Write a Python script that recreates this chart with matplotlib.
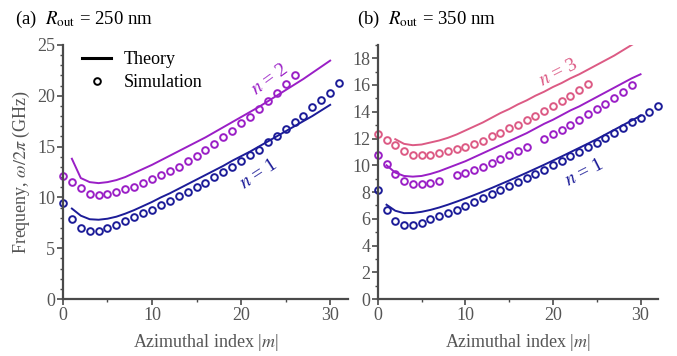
import numpy as np
import matplotlib
matplotlib.use("Agg")
import matplotlib.pyplot as plt
from matplotlib.ticker import MultipleLocator
from matplotlib.lines import Line2D

plt.rcParams['font.family'] = ['Liberation Serif', 'DejaVu Serif']
plt.rcParams['mathtext.fontset'] = 'stix'

nan = np.nan

# ---------------- Panel (a): R_out = 250 nm ----------------
a_m_sim1 = list(range(0, 32))
a_sim_n1 = [9.45, 7.9, 7.0, 6.65, 6.7, 7.0, 7.3, 7.7, 8.05, 8.45, 8.8, 9.25,
            9.65, 10.1, 10.5, 11.0, 11.45, 12.0, 12.45, 13.0, 13.6, 14.2, 14.7,
            15.4, 16.0, 16.7, 17.4, 18.05, 18.85, 19.6, 20.3, 21.2]
a_m_sim2 = list(range(0, 27))
a_sim_n2 = [12.1, 11.55, 10.9, 10.3, 10.2, 10.3, 10.5, 10.8, 11.05, 11.45, 11.8,
            12.2, 12.6, 13.0, 13.55, 14.1, 14.7, 15.25, 15.9, 16.55, 17.3, 17.95,
            18.7, 19.5, 20.3, 21.15, 22.05]
a_m_th = list(range(1, 31))
a_th_n1 = [8.9, 8.2, 7.85, 7.8, 7.9, 8.1, 8.4, 8.75, 9.15, 9.55, 10.0, 10.4,
           10.85, 11.3, 11.75, 12.2, 12.65, 13.1, 13.6, 14.05, 14.5, 15.0, 15.5,
           16.0, 16.5, 17.0, 17.5, 18.0, 18.55, 19.1]
a_th_n2 = [13.8, 11.9, 11.5, 11.4, 11.5, 11.7, 12.0, 12.4, 12.8, 13.2, 13.65,
           14.1, 14.55, 15.0, 15.45, 15.9, 16.4, 16.9, 17.4, 17.9, 18.4, 18.9,
           19.45, 20.0, 20.55, 21.1, 21.65, 22.25, 22.85, 23.45]

# ---------------- Panel (b): R_out = 350 nm ----------------
b_m_sim1 = list(range(0, 33))
b_sim_n1 = [8.18, 6.64, 5.85, 5.52, 5.52, 5.72, 5.95, 6.19, 6.44, 6.69, 6.96,
            7.26, 7.56, 7.84, 8.13, 8.46, 8.75, 9.05, 9.38, 9.68, 10.0, 10.32,
            10.67, 11.0, 11.37, 11.7, 12.07, 12.4, 12.8, 13.2, 13.55, 14.0, 14.4]
b_m_sim2 = list(range(0, 30))
b_sim_n2 = [10.75, 10.07, 9.33, 8.8, 8.63, 8.63, 8.7, 8.83, nan, 9.25, 9.45,
            9.68, 9.87, 10.2, 10.45, 10.75, 11.07, 11.4, nan, 12.0, 12.3, 12.66,
            13.03, 13.4, 13.8, 14.18, 14.6, 15.0, 15.47, 15.97]
b_m_sim3 = list(range(0, 25))
b_sim_n3 = [12.3, 11.9, 11.5, 11.1, 10.8, 10.8, 10.8, 10.9, 11.05, 11.2, 11.4,
            11.6, 11.85, 12.15, 12.4, 12.75, 13.0, 13.36, 13.66, 14.03, 14.4,
            14.8, 15.2, 15.65, 16.1]
b_m_th = list(range(1, 31))
b_th_n1 = [7.05, 6.6, 6.42, 6.43, 6.52, 6.66, 6.84, 7.05, 7.28, 7.52, 7.77,
           8.03, 8.3, 8.58, 8.86, 9.15, 9.44, 9.74, 10.04, 10.35, 10.66, 10.98,
           11.3, 11.62, 11.95, 12.3, 12.65, 13.0, 13.35, 13.7]
b_th_n2 = [10.0, 9.45, 9.2, 9.15, 9.2, 9.35, 9.55, 9.8, 10.05, 10.3, 10.6,
           10.9, 11.2, 11.5, 11.8, 12.1, 12.4, 12.75, 13.1, 13.4, 13.75, 14.1,
           14.4, 14.75, 15.1, 15.45, 15.8, 16.15, 16.5, 16.8]
b_m_th3 = list(range(2, 31))
b_th_n3 = [11.95, 11.6, 11.5, 11.55, 11.7, 11.85, 12.05, 12.3, 12.6, 12.9,
           13.2, 13.55, 13.9, 14.2, 14.55, 14.85, 15.2, 15.5, 15.85, 16.15,
           16.5, 16.8, 17.15, 17.5, 17.85, 18.2, 18.6, 19.0, 19.35]

C1 = '#1c1c98'
C2 = '#9a1fc6'
C3 = '#dc5a84'
AX = '#4a4a4a'
TX = '#555555'

fig = plt.figure(figsize=(6.77, 3.56), dpi=100)
axA = fig.add_axes([0.093, 0.160, 0.421, 0.714])
axB = fig.add_axes([0.558, 0.160, 0.414, 0.714])

lw = 1.4
mk = dict(ls='none', marker='o', ms=4.8, mfc='none', mew=1.4, clip_on=False)

axA.plot(a_m_th, a_th_n1, color=C1, lw=lw)
axA.plot(a_m_th, a_th_n2, color=C2, lw=lw)
axA.plot(a_m_sim1, a_sim_n1, color=C1, **mk)
axA.plot(a_m_sim2, a_sim_n2, color=C2, **mk)

axB.plot(b_m_th, b_th_n1, color=C1, lw=lw)
axB.plot(b_m_th, b_th_n2, color=C2, lw=lw)
axB.plot(b_m_th3, b_th_n3, color=C3, lw=lw)
axB.plot(b_m_sim1, b_sim_n1, color=C1, **mk)
axB.plot(b_m_sim2, b_sim_n2, color=C2, **mk)
axB.plot(b_m_sim3, b_sim_n3, color=C3, **mk)

for ax in (axA, axB):
    ax.set_xlim(0, 32)
    for s in ('top', 'right'):
        ax.spines[s].set_visible(False)
    for s in ('left', 'bottom'):
        ax.spines[s].set_color(AX)
        ax.spines[s].set_linewidth(1.6)
    ax.xaxis.set_major_locator(MultipleLocator(10))
    ax.xaxis.set_minor_locator(MultipleLocator(5))
    ax.tick_params(which='major', direction='out', length=4, width=1.2,
                   color=AX, labelcolor=TX, labelsize=13, pad=1.5)
    ax.tick_params(which='minor', direction='out', length=2, width=1.0, color=AX)
    ax.set_xlabel('Azimuthal index |$m$|', fontsize=13, color=TX, labelpad=6)

axA.set_ylim(0, 25)
axA.yaxis.set_major_locator(MultipleLocator(5))
axA.yaxis.set_minor_locator(MultipleLocator(1))
axA.set_ylabel(r'Frequeny, $\omega/2\pi$ (GHz)', fontsize=13, color=TX, labelpad=4)

axB.set_ylim(0, 19)
axB.yaxis.set_major_locator(MultipleLocator(2))
axB.yaxis.set_minor_locator(MultipleLocator(1))

fig.text(0.022, 0.944, r'(a)  $R_{\mathrm{out}}$ = 250 nm', fontsize=13.5, va='center')
fig.text(0.527, 0.944, r'(b)  $R_{\mathrm{out}}$ = 350 nm', fontsize=13.5, va='center')

handles = [Line2D([], [], color='black', lw=2.2),
           Line2D([], [], color='black', ls='none', marker='o', ms=4.8,
                  mfc='none', mew=1.4)]
axA.legend(handles, ['Theory', 'Simulation'], loc='upper left',
           bbox_to_anchor=(0.01, 1.04), frameon=False, fontsize=13,
           handlelength=1.6, handletextpad=0.7, labelspacing=0.35)

axA.text(23.2, 21.6, '$n$ = 2', color=C2, fontsize=14, rotation=36,
         ha='center', va='center')
axA.text(22.0, 12.3, '$n$ = 1', color=C1, fontsize=14, rotation=33,
         ha='center', va='center')
axB.text(20.6, 16.9, '$n$ = 3', color=C3, fontsize=14, rotation=27,
         ha='center', va='center')
axB.text(23.6, 9.4, '$n$ = 1', color=C1, fontsize=14, rotation=27,
         ha='center', va='center')

fig.savefig('out.png', dpi=100)
